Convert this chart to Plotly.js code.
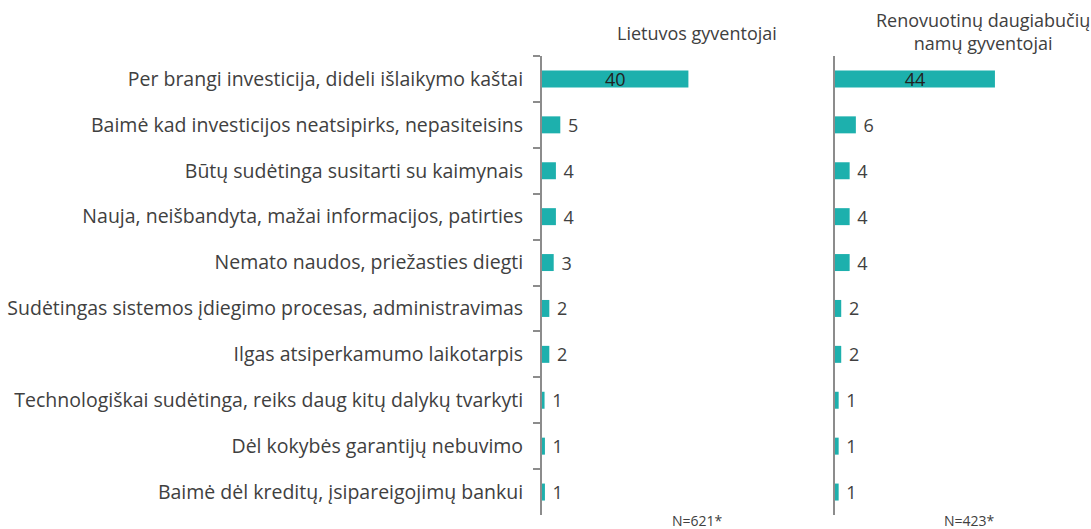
<!DOCTYPE html>
<html>
<head>
<meta charset="utf-8">
<script src="https://cdn.plot.ly/plotly-3.0.1.min.js"></script>
<style>html,body{margin:0;padding:0;background:#fff;}#chart{width:1091px;height:529px;}</style>
</head>
<body>
<div id="chart"></div>
<script>
const categories = [
  "Per brangi investicija, dideli išlaikymo kaštai",
  "Baimė kad investicijos neatsipirks, nepasiteisins",
  "Būtų sudėtinga susitarti su kaimynais",
  "Nauja, neišbandyta, mažai informacijos, patirties",
  "Nemato naudos, priežasties diegti",
  "Sudėtingas sistemos įdiegimo procesas, administravimas",
  "Ilgas atsiperkamumo laikotarpis",
  "Technologiškai sudėtinga, reiks daug kitų dalykų tvarkyti",
  "Dėl kokybės garantijų nebuvimo",
  "Baimė dėl kreditų, įsipareigojimų bankui"
];
const lietuvosValues = [40, 5.0, 3.8, 3.8, 3.2, 2.0, 2.0, 0.7, 0.8, 0.8];
const lietuvosLabels = ["40", "5", "4", "4", "3", "2", "2", "1", "1", "1"];
const renovValues = [43.7, 5.7, 4.0, 4.0, 4.0, 1.7, 1.7, 1.0, 1.0, 1.0];
const renovLabels = ["44", "6", "4", "4", "4", "2", "2", "1", "1", "1"];
const seriesTitles = ["Lietuvos gyventojai", "Renovuotinų daugiabučių<br>namų gyventojai"];
const sampleNotes = ["N=621*", "N=423*"];

const W = 1091;
const plotTop = 56, plotBottom = 515;
const teal = "#1DB0AD";
const txt = "#404040";
const fontFam = "'Open Sans', 'Noto Sans', sans-serif";
const pxPerUnit = 3.66;
const x1a = 542, x1b = 790, x2a = 835, x2b = 1091;
const py = v => (plotBottom - v) / (plotBottom - plotTop);

function positions(labels) {
  return labels.map((_, i) => i === 0 ? "inside" : "outside");
}
function templates(labels) {
  return labels.map((_, i) => i === 0 ? "%{text}" : "\u00a0%{text}");
}

function barTrace(vals, labels, xa, ya) {
  return {
    type: "bar", orientation: "h", y: categories, x: vals,
    text: labels, texttemplate: templates(labels), textposition: positions(labels),
    textangle: 0, constraintext: "none", insidetextanchor: "middle",
    insidetextfont: {color: "#222", size: 18, family: fontFam},
    outsidetextfont: {color: txt, size: 18, family: fontFam},
    marker: {color: teal}, width: 0.37, cliponaxis: false,
    xaxis: xa, yaxis: ya, hoverinfo: "none"
  };
}

const traces = [
  barTrace(lietuvosValues, lietuvosLabels, "x", "y"),
  barTrace(renovValues, renovLabels, "x2", "y2")
];

const layout = {
  width: 1091, height: 529,
  margin: {l: 0, r: 0, t: plotTop, b: 529 - plotBottom},
  paper_bgcolor: "#fff", plot_bgcolor: "#fff",
  showlegend: false,
  font: {family: fontFam, color: txt, size: 18},
  xaxis: {
    domain: [x1a / W, x1b / W], range: [0, (x1b - x1a) / pxPerUnit],
    visible: false, fixedrange: true
  },
  xaxis2: {
    domain: [x2a / W, x2b / W], range: [0, (x2b - x2a) / pxPerUnit],
    visible: false, fixedrange: true
  },
  yaxis: {
    anchor: "x", autorange: "reversed", type: "category",
    showline: true, linecolor: "#8c8c8c", linewidth: 2,
    ticks: "outside", tickson: "boundaries", ticklen: 7, tickwidth: 2, tickcolor: "#8c8c8c",
    showgrid: false, zeroline: false,
    tickfont: {size: 19.5, color: txt, family: fontFam},
    ticklabelstandoff: 13
  },
  yaxis2: {
    anchor: "x2", autorange: "reversed", type: "category",
    showline: true, linecolor: "#8c8c8c", linewidth: 2,
    ticks: "", showticklabels: false, showgrid: false, zeroline: false
  },
  annotations: [
    {text: seriesTitles[0], xref: "paper", yref: "paper", x: 697 / W, y: py(33),
     xanchor: "center", yanchor: "middle", showarrow: false, font: {size: 18, color: txt}},
    {text: seriesTitles[1], xref: "paper", yref: "paper", x: 983 / W, y: py(31),
     xanchor: "center", yanchor: "middle", showarrow: false, font: {size: 18, color: txt}},
    {text: sampleNotes[0], xref: "paper", yref: "paper", x: 697 / W, y: py(520),
     xanchor: "center", yanchor: "middle", showarrow: false, font: {size: 14, color: txt}},
    {text: sampleNotes[1], xref: "paper", yref: "paper", x: 969 / W, y: py(520),
     xanchor: "center", yanchor: "middle", showarrow: false, font: {size: 14, color: txt}}
  ]
};

Plotly.newPlot("chart", traces, layout, {displayModeBar: false, staticPlot: true});
</script>
</body>
</html>
